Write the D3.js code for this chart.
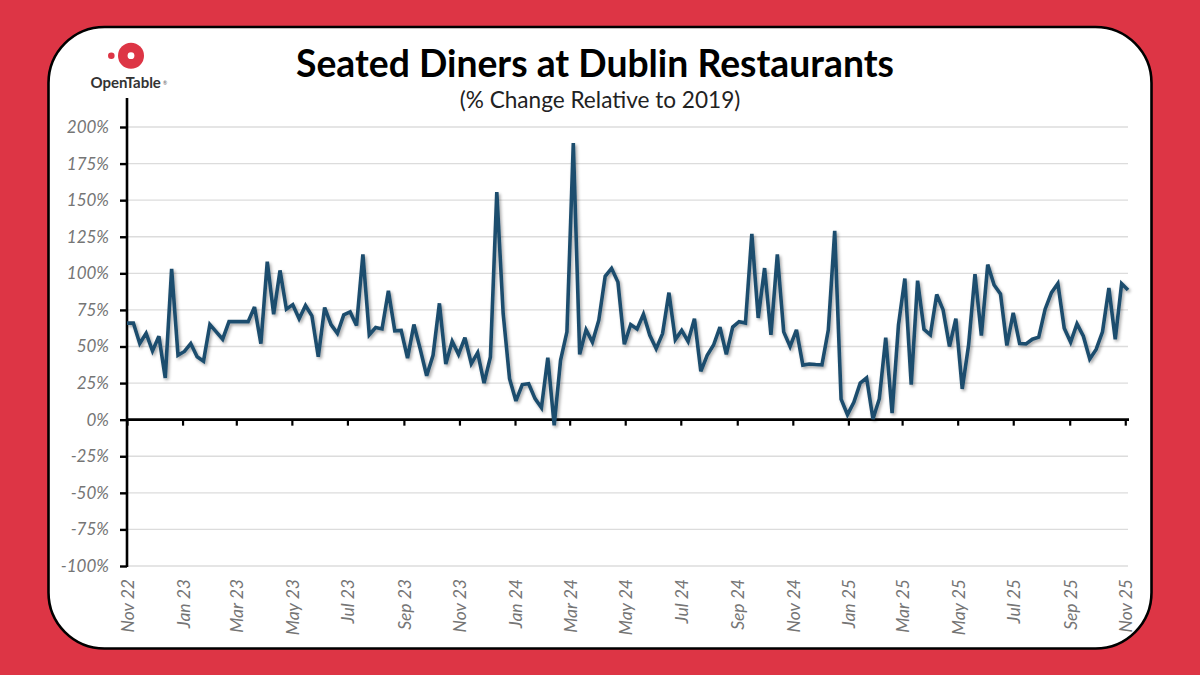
<!DOCTYPE html>
<html><head><meta charset="utf-8">
<script src="https://cdn.jsdelivr.net/npm/d3@7/dist/d3.min.js"></script>
<style>
html,body{margin:0;padding:0;background:#dd3545;overflow:hidden}
svg{display:block}
text{font-family:Lato,"Open Sans",sans-serif}
</style></head><body>
<svg id="c" width="1200" height="675"></svg>
<script>
const firstWeek = "2022-11-01";
const weeklyChange = [
66,66,52,59,47,57,28.5,103,44,46.6,52,43,40,65,60,55,67,67,67,67,77,52,108,72,102,75.5,78.6,69,78,71,43,76.6,65,59,71.6,73.6,64.3,113,58,63,62,88,60.7,61,42,65,48,30,44,79.5,38,53.6,44.6,
56,38.3,45.8,25,42.8,155.6,72.4,28,12.8,24,24.6,14.4,8.2,42.4,-3.9,40.5,60,189,44.6,61.5,53,68,98,103.4,94,51.5,65,62,72,57.6,48.5,58.8,86.8,54.7,61,53.5,69,33,44,51,63.3,44.6,63.3,67,66,127,69.5,103.6,58,113,60,50,
61.4,37.3,38,37.7,37.5,61.4,129,14,3.4,11.8,25,28.6,0.5,14.3,56,4.5,64.8,96.4,24,95,61.8,58,85.5,75,50,69,21,51,99.5,57.5,106,92,86,50.7,73,52,51.8,55,56.4,75.5,86.8,93,62.5,53,65.5,57,41.4,48,60,90,55,93,88.6];
const xTickLabels = ["Nov 22","Jan 23","Mar 23","May 23","Jul 23","Sep 23","Nov 23","Jan 24","Mar 24","May 24","Jul 24","Sep 24","Nov 24","Jan 25","Mar 25","May 25","Jul 25","Sep 25","Nov 25"];
const yTicks = [200,175,150,125,100,75,50,25,0,-25,-50,-75,-100];

const svg = d3.select("#c");
const parseTick = d3.timeParse("%b %y");
const start = d3.timeParse("%Y-%m-%d")(firstWeek);
const rows = weeklyChange.map((v,i)=>({date:d3.timeDay.offset(start,i*7),value:v}));
const x = d3.scaleTime().domain([start,rows[rows.length-1].date]).range([127,1128]);
const y = d3.scaleLinear().domain([-100,200]).range([566,127]);

const defs = svg.append("defs");
const f = defs.append("filter").attr("id","sh").attr("x","-5%").attr("y","-5%").attr("width","110%").attr("height","110%");
f.append("feDropShadow").attr("dx",1.6).attr("dy",1.9).attr("stdDeviation",1.5).attr("flood-color","#000").attr("flood-opacity",0.35);

svg.append("rect").attr("x",48.5).attr("y",27).attr("width",1103).attr("height",621.5).attr("rx",56).attr("ry",56)
  .attr("fill","#fff").attr("stroke","#000").attr("stroke-width",2.6);

// gridlines
svg.append("g").selectAll("line").data(yTicks.filter(d=>d!==0)).join("line")
  .attr("x1",127).attr("x2",1128).attr("y1",d=>y(d)).attr("y2",d=>y(d))
  .attr("stroke","#dcdcdc").attr("stroke-width",1.3);

// y axis
const gy = svg.append("g").attr("transform","translate(127,0)")
  .call(d3.axisLeft(y).tickValues(yTicks).tickFormat(d=>d+"%").tickSize(7).tickPadding(11));
gy.select(".domain").remove();
gy.selectAll("line").attr("stroke","#000").attr("stroke-width",2.4);
gy.selectAll("text").attr("fill","#757575").attr("font-size",17).attr("font-style","italic").style("font-family","Lato");
svg.append("line").attr("x1",127).attr("x2",127).attr("y1",98).attr("y2",567).attr("stroke","#000").attr("stroke-width",2.6);

// x axis at zero
const gx = svg.append("g").attr("transform",`translate(0,${y(0)})`)
  .call(d3.axisBottom(x).tickValues(xTickLabels.map(parseTick)).tickFormat((d,i)=>xTickLabels[i]).tickSize(6));
gx.select(".domain").remove();
gx.selectAll("line").attr("stroke","#000").attr("stroke-width",2.2);
gx.selectAll("text").attr("fill","#757575").attr("font-size",17.5).attr("font-style","italic").style("font-family","Lato")
  .attr("text-anchor","end").attr("dy",null)
  .attr("transform",d=>`translate(0,${579-y(0)}) rotate(-90)`).attr("y",0).attr("x",0)
  .attr("dominant-baseline","central");
svg.append("line").attr("x1",126).attr("x2",1129).attr("y1",y(0)).attr("y2",y(0)).attr("stroke","#000").attr("stroke-width",2.6);

// series
const line = d3.line().x(d=>x(d.date)).y(d=>y(d.value));
svg.append("path").datum(rows).attr("d",line).attr("fill","none").attr("stroke","#1f4e6e")
  .attr("stroke-width",3.6).attr("stroke-linejoin","miter").attr("stroke-miterlimit",3).attr("filter","url(#sh)");

// titles
svg.append("text").attr("x",595).attr("y",76.5).attr("text-anchor","middle").attr("font-size",37.3).attr("font-weight",700).attr("fill","#000").text("Seated Diners at Dublin Restaurants");
svg.append("text").attr("x",600).attr("y",108).attr("text-anchor","middle").attr("font-size",22.6).attr("fill","#222").text("(% Change Relative to 2019)");

// logo
svg.append("circle").attr("cx",131).attr("cy",55.7).attr("r",13).attr("fill","#dd3545");
svg.append("circle").attr("cx",131).attr("cy",55.7).attr("r",3.4).attr("fill","#fff");
svg.append("circle").attr("cx",111.3).attr("cy",55.7).attr("r",3.3).attr("fill","#dd3545");
svg.append("text").attr("x",90.5).attr("y",87.5).attr("font-size",15).attr("font-weight",700).attr("fill","#333").text("OpenTable");
svg.append("text").attr("x",163).attr("y",85).attr("font-size",5).attr("fill","#555").text("®");
</script>
</body></html>
